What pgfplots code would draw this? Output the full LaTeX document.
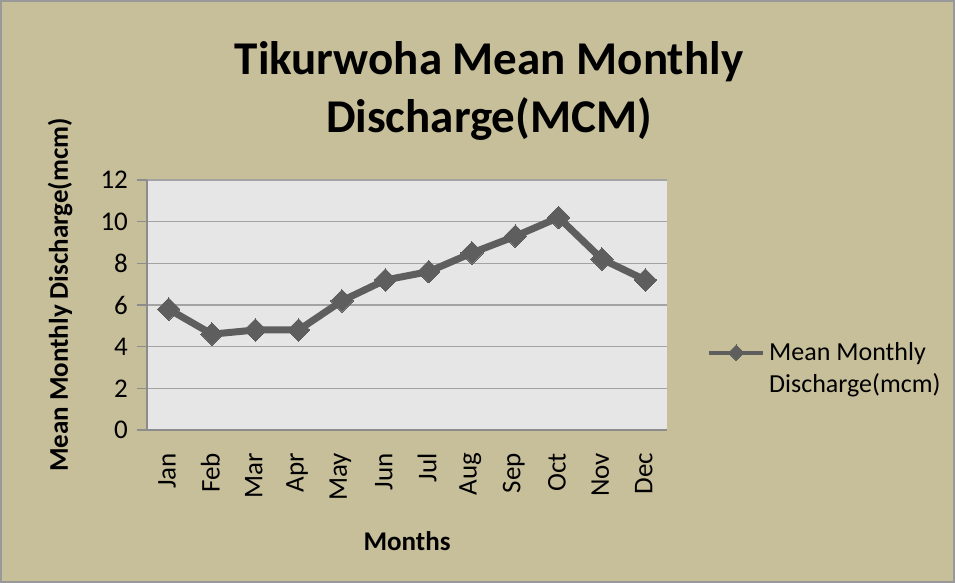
\documentclass[border=0pt]{standalone}
\usepackage{fontspec}
\setmainfont{Carlito}
\usepackage{pgfplots}
\pgfplotsset{compat=1.18}
\definecolor{bgtan}{HTML}{C7BE9A}
\definecolor{plotgray}{HTML}{E6E6E6}
\definecolor{gridgray}{HTML}{A3A3A3}
\definecolor{linegray}{HTML}{5E5E5E}
\begin{document}
\begin{tikzpicture}
% 1px of the reference = 0.5pt
\fill[bgtan] (0,0) rectangle (477.5pt,291.5pt);
\draw[gray!80, line width=0.8pt] (0.4pt,0.4pt) rectangle (477.1pt,291.1pt);
\node[font=\bfseries\fontsize{23.5}{29}\selectfont, align=center] at (244.5pt,246pt)
  {Tikurwoha Mean Monthly\\Discharge(MCM)};
\begin{axis}[
    at={(73.5pt,76.5pt)}, anchor=south west,
    scale only axis,
    width=260pt, height=125pt,
    xmin=0.5, xmax=12.5,
    ymin=0, ymax=12,
    ytick={0,2,...,12},
    xtick={1,...,12},
    xticklabels={Jan,Feb,Mar,Apr,May,Jun,Jul,Aug,Sep,Oct,Nov,Dec},
    axis background/.style={fill=plotgray},
    ymajorgrids,
    grid style={gridgray, line width=0.6pt},
    axis x line*=bottom, axis y line*=left,
    axis line style={-, draw=gray!90, line width=0.6pt},
    tick align=outside,
    major tick length=5pt,
    ytick style={draw=gray!90, line width=0.6pt},
    xtick style={draw=none},
    tick label style={font=\fontsize{13.5}{15}\selectfont},
    /pgf/number format/assume math mode=true,
    xticklabel style={xshift=-0.8pt, yshift=-3pt, rotate=90, anchor=east},
    yticklabel style={xshift=-1pt},
    xlabel={Months},
    ylabel={Mean Monthly Discharge(mcm)},
    label style={font=\bfseries\fontsize{13.5}{15}\selectfont},
    xlabel style={at={(axis description cs:0.5,-0.444)}, anchor=center},
    ylabel style={at={(axis description cs:-0.167,0.54)}, anchor=center, rotate=0},
    legend style={at={(axis description cs:1.065,0.245)}, anchor=west,
        draw=none, fill=none, font=\fontsize{13}{16}\selectfont,
        cells={align=left}},
    legend image code/.code={
        \draw[mark repeat=2, mark phase=2, #1, line width=2pt, mark size=2.8pt, yshift=8pt]
            plot coordinates {(0pt,0pt) (13.5pt,0pt) (27pt,0pt)};},
]
\addplot[linegray, line width=3.5pt, mark=square*, mark size=4pt,
    mark options={rotate=45, line width=0pt, fill=linegray}]
    coordinates {(1,5.8) (2,4.6) (3,4.8) (4,4.8) (5,6.2) (6,7.2)
                 (7,7.6) (8,8.5) (9,9.3) (10,10.2) (11,8.2) (12,7.2)};
\addlegendentry{Mean Monthly\\Discharge(mcm)}
\end{axis}
\end{tikzpicture}
\end{document}
